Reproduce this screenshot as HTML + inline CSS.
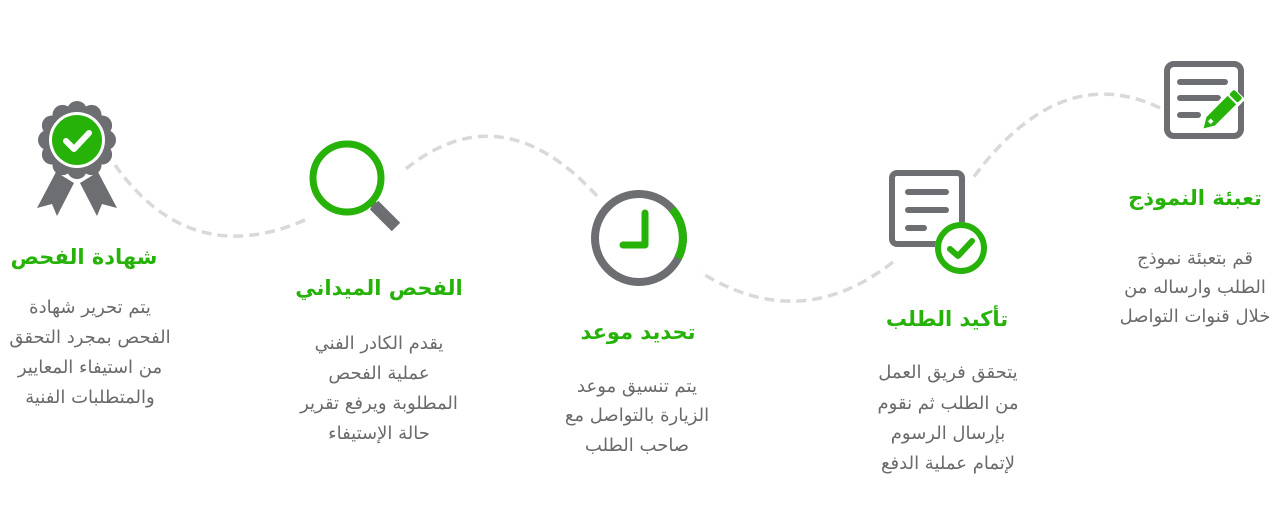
<!DOCTYPE html>
<html><head><meta charset="utf-8"><style>
html,body{margin:0;padding:0;background:#fff;width:1273px;height:532px;overflow:hidden}
svg{display:block}
.t{font-family:"DejaVu Sans",sans-serif;font-weight:bold;font-size:21px;fill:#27b20a;text-anchor:middle}
.b{font-family:"DejaVu Sans",sans-serif;font-size:18px;fill:#6a6a6a;text-anchor:middle}
</style></head><body>
<svg width="1273" height="532" viewBox="0 0 1273 532">
<g fill="none" stroke="#d9d9d9" stroke-width="3.5" stroke-dasharray="10,6">
<path d="M1160,108 Q1060,60 973,178"/>
<path d="M893,262 Q800,335 700,272"/>
<path d="M597,196 Q500,90 402,172"/>
<path d="M305,220 Q190,270 115,165"/>
</g>
<!-- form icon -->
<rect x="1167" y="64" width="74" height="72" rx="7" fill="none" stroke="#6d6e71" stroke-width="6"/>
<g stroke="#6d6e71" stroke-width="6" stroke-linecap="round">
<line x1="1180" y1="82" x2="1225" y2="82"/><line x1="1180" y1="98" x2="1218" y2="98"/><line x1="1180" y1="115" x2="1198" y2="115"/>
</g>
<g transform="rotate(-45 1222 110)">
<rect x="1200" y="101" width="46" height="18" fill="#fff"/>
<path d="M1206,104 L1236,104 L1236,116 L1206,116 L1196,110 Z" fill="#27b20a"/>
<rect x="1238" y="104" width="7" height="12" fill="#27b20a" rx="2"/>
<rect x="1204" y="108" width="4" height="4" fill="#fff"/>
</g>
<!-- doc check -->
<rect x="892" y="173" width="70" height="71" rx="5" fill="none" stroke="#6d6e71" stroke-width="6"/>
<g stroke="#6d6e71" stroke-width="6" stroke-linecap="round">
<line x1="908" y1="192" x2="946" y2="192"/><line x1="908" y1="210" x2="946" y2="210"/><line x1="908" y1="228" x2="924" y2="228"/>
</g>
<circle cx="961" cy="248" r="26" fill="#fff"/>
<circle cx="961" cy="248" r="23" fill="none" stroke="#27b20a" stroke-width="6"/>
<path d="M950,249 L958,256 L972,241" fill="none" stroke="#27b20a" stroke-width="6" stroke-linecap="round" stroke-linejoin="round"/>
<!-- clock -->
<circle cx="639" cy="238" r="44" fill="none" stroke="#6d6e71" stroke-width="8"/>
<path d="M672,209 A44,44 0 0 1 678,258" fill="none" stroke="#27b20a" stroke-width="8"/>
<path d="M645,213 L645,245 L623,245" fill="none" stroke="#27b20a" stroke-width="7" stroke-linecap="round" stroke-linejoin="round"/>
<!-- magnifier -->
<line x1="374" y1="205" x2="396" y2="227" stroke="#6d6e71" stroke-width="12"/>
<line x1="371" y1="202" x2="377" y2="208" stroke="#6d6e71" stroke-width="7"/>
<circle cx="347" cy="178" r="34" fill="none" stroke="#27b20a" stroke-width="7"/>
<!-- badge -->
<path d="M56,172 L37,208 L52,204 L57,216 L74,183 Z M98,172 L117,208 L102,204 L97,216 L80,183 Z" fill="#6d6e71"/>
<g fill="#6d6e71">
<circle cx="77" cy="140" r="32"/>
<circle cx="77" cy="111" r="10"/><circle cx="91.5" cy="114.9" r="10"/><circle cx="102.1" cy="125.5" r="10"/><circle cx="106" cy="140" r="10"/><circle cx="102.1" cy="154.5" r="10"/><circle cx="91.5" cy="165.1" r="10"/><circle cx="77" cy="169" r="10"/><circle cx="62.5" cy="165.1" r="10"/><circle cx="51.9" cy="154.5" r="10"/><circle cx="48" cy="140" r="10"/><circle cx="51.9" cy="125.5" r="10"/><circle cx="62.5" cy="114.9" r="10"/>
</g>
<circle cx="77" cy="140" r="28" fill="#fff"/>
<circle cx="77" cy="140" r="25" fill="#27b20a"/>
<path d="M66,141 L74,149 L89,133" fill="none" stroke="#fff" stroke-width="6" stroke-linecap="round" stroke-linejoin="round"/>
<!-- texts -->
<text class="t" x="1195" y="205">تعبئة النموذج</text>
<text class="b" x="1195" y="264">قم بتعبئة نموذج</text>
<text class="b" x="1195" y="293">الطلب وارساله من</text>
<text class="b" x="1195" y="322">خلال قنوات التواصل</text>

<text class="t" x="947" y="326">تأكيد الطلب</text>
<text class="b" x="948" y="378">يتحقق فريق العمل</text>
<text class="b" x="948" y="409">من الطلب ثم نقوم</text>
<text class="b" x="948" y="439">بإرسال الرسوم</text>
<text class="b" x="948" y="469">لإتمام عملية الدفع</text>

<text class="t" x="638" y="339">تحديد موعد</text>
<text class="b" x="637" y="392">يتم تنسيق موعد</text>
<text class="b" x="637" y="421">الزيارة بالتواصل مع</text>
<text class="b" x="637" y="451">صاحب الطلب</text>

<text class="t" x="379" y="295">الفحص الميداني</text>
<text class="b" x="379" y="349">يقدم الكادر الفني</text>
<text class="b" x="379" y="379">عملية الفحص</text>
<text class="b" x="379" y="409">المطلوبة ويرفع تقرير</text>
<text class="b" x="379" y="439">حالة الإستيفاء</text>

<text class="t" x="84" y="264">شهادة الفحص</text>
<text class="b" x="90" y="313">يتم تحرير شهادة</text>
<text class="b" x="90" y="343">الفحص بمجرد التحقق</text>
<text class="b" x="90" y="373">من استيفاء المعايير</text>
<text class="b" x="90" y="403">والمتطلبات الفنية</text>
</svg>
</body></html>
